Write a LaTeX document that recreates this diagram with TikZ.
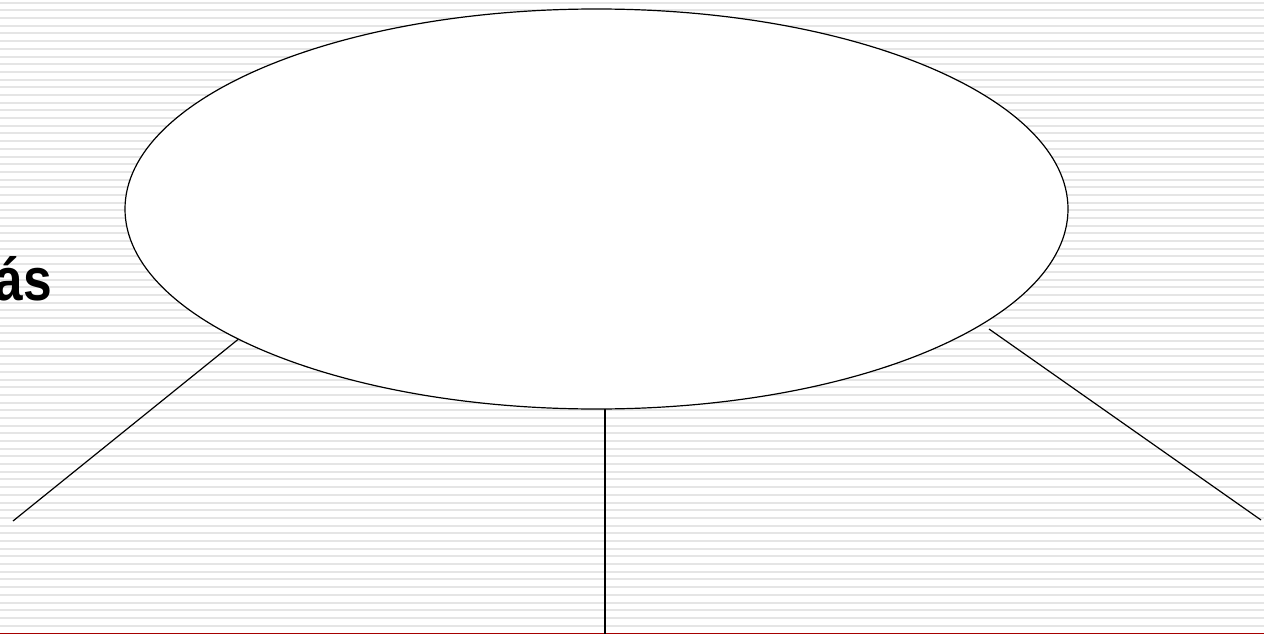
\documentclass[tikz,border=0pt]{standalone}
\usepackage{fontspec}
\setsansfont{Liberation Sans}
\usepackage{tikz}
\usetikzlibrary{shapes.geometric, positioning, calc}
\tikzset{
    stripe_line/.style={
        draw=gray!20, line width=2pt
    },
    topic_ellipse/.style={
        ellipse, draw=black, line width=1.2pt, fill=white,
        minimum width=943pt, minimum height=400pt, inner sep=0pt
    },
    branch_line/.style={
        draw=black, line width=1.2pt
    },
    title_txt/.style={
        font=\sffamily\bfseries\fontsize{60}{62}\selectfont, inner sep=0pt,
        xscale=0.86, transform shape
    }
}

\begin{document}
\begin{tikzpicture}[x=1pt, y=-1pt]

    \useasboundingbox (0,0) rectangle (1264,634);

    % --- Background: striped slide ---
    \fill[white] (0,0) rectangle (1264,634);
    \foreach \k in {0,...,81} {
        \draw[stripe_line] (0, 2.7+7.69*\k) -- (1264, 2.7+7.69*\k);
    }
    \draw[red!65!black, line width=1pt] (0,633.5) -- (1264,633.5);

    % --- Cut-off title text at the left ---
    \node[title_txt, anchor=base east] (title) at (52,300) {ás};

    % --- Central ellipse ---
    \node[topic_ellipse] (tema) at (596.5,209) {};

    % --- Free ends of the branches ---
    \coordinate (left_end) at (13,521);
    \coordinate (mid_top) at (605,409);
    \coordinate (mid_end) at (605,634);
    \coordinate (right_top) at (989,329);
    \coordinate (right_end) at (1261,520);

    % --- Branches ---
    \draw[branch_line] (tema.200.9) -- (left_end);
    \draw[branch_line] (mid_top) -- (mid_end);
    \draw[branch_line] (right_top) -- (right_end);

\end{tikzpicture}
\end{document}
